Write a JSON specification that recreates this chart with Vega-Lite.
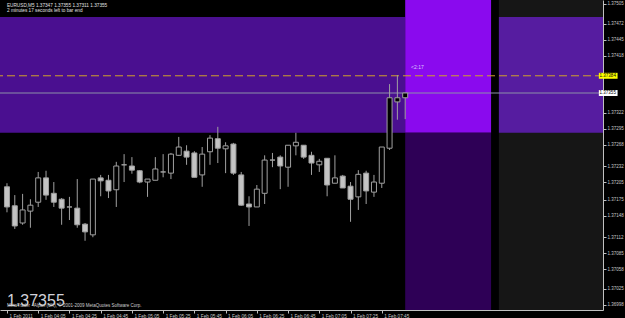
{
  "$schema": "https://vega.github.io/schema/vega-lite/v6.json",
  "width": 603,
  "height": 310,
  "autosize": "none",
  "padding": {"left": 0, "top": 0, "right": 22, "bottom": 8},
  "background": "#000000",
  "config": {
    "view": {"stroke": null},
    "font": "Liberation Sans",
    "axis": {"labelOverlap": false, "labelFlush": false, "labelBound": false, "grid": false, "title": null}
  },
  "datasets": {
    "candles": [
      {"t": "2011-02-01T03:45:00Z", "o": 1.37197, "h": 1.37203, "l": 1.37154, "c": 1.37163},
      {"t": "2011-02-01T03:50:00Z", "o": 1.37165, "h": 1.37183, "l": 1.37126, "c": 1.37131},
      {"t": "2011-02-01T03:55:00Z", "o": 1.37136, "h": 1.37185, "l": 1.37133, "c": 1.37158},
      {"t": "2011-02-01T04:00:00Z", "o": 1.37156, "h": 1.37176, "l": 1.37128, "c": 1.37166},
      {"t": "2011-02-01T04:05:00Z", "o": 1.37171, "h": 1.37222, "l": 1.37163, "c": 1.37212},
      {"t": "2011-02-01T04:10:00Z", "o": 1.37212, "h": 1.37224, "l": 1.37175, "c": 1.37183},
      {"t": "2011-02-01T04:15:00Z", "o": 1.37186, "h": 1.37205, "l": 1.37163, "c": 1.37171},
      {"t": "2011-02-01T04:20:00Z", "o": 1.37176, "h": 1.37178, "l": 1.37133, "c": 1.37161},
      {"t": "2011-02-01T04:25:00Z", "o": 1.37163, "h": 1.37180, "l": 1.37141, "c": 1.37163},
      {"t": "2011-02-01T04:30:00Z", "o": 1.37161, "h": 1.37210, "l": 1.37128, "c": 1.37133},
      {"t": "2011-02-01T04:35:00Z", "o": 1.37134, "h": 1.37136, "l": 1.37106, "c": 1.37121},
      {"t": "2011-02-01T04:40:00Z", "o": 1.37116, "h": 1.37210, "l": 1.37112, "c": 1.37210},
      {"t": "2011-02-01T04:45:00Z", "o": 1.37212, "h": 1.37217, "l": 1.37181, "c": 1.37207},
      {"t": "2011-02-01T04:50:00Z", "o": 1.37208, "h": 1.37217, "l": 1.37178, "c": 1.37190},
      {"t": "2011-02-01T04:55:00Z", "o": 1.37192, "h": 1.37239, "l": 1.37163, "c": 1.37232},
      {"t": "2011-02-01T05:00:00Z", "o": 1.37234, "h": 1.37252, "l": 1.37205, "c": 1.37234},
      {"t": "2011-02-01T05:05:00Z", "o": 1.37232, "h": 1.37247, "l": 1.37219, "c": 1.37225},
      {"t": "2011-02-01T05:10:00Z", "o": 1.37224, "h": 1.37225, "l": 1.37203, "c": 1.37205},
      {"t": "2011-02-01T05:15:00Z", "o": 1.37205, "h": 1.37210, "l": 1.37180, "c": 1.37210},
      {"t": "2011-02-01T05:20:00Z", "o": 1.37208, "h": 1.37247, "l": 1.37208, "c": 1.37227},
      {"t": "2011-02-01T05:25:00Z", "o": 1.37222, "h": 1.37252, "l": 1.37213, "c": 1.37222},
      {"t": "2011-02-01T05:30:00Z", "o": 1.37220, "h": 1.37254, "l": 1.37210, "c": 1.37252},
      {"t": "2011-02-01T05:35:00Z", "o": 1.37250, "h": 1.37281, "l": 1.37249, "c": 1.37264},
      {"t": "2011-02-01T05:40:00Z", "o": 1.37257, "h": 1.37267, "l": 1.37234, "c": 1.37247},
      {"t": "2011-02-01T05:45:00Z", "o": 1.37254, "h": 1.37257, "l": 1.37213, "c": 1.37213},
      {"t": "2011-02-01T05:50:00Z", "o": 1.37217, "h": 1.37264, "l": 1.37197, "c": 1.37252},
      {"t": "2011-02-01T05:55:00Z", "o": 1.37256, "h": 1.37284, "l": 1.37234, "c": 1.37279},
      {"t": "2011-02-01T06:00:00Z", "o": 1.37278, "h": 1.37298, "l": 1.37237, "c": 1.37262},
      {"t": "2011-02-01T06:05:00Z", "o": 1.37261, "h": 1.37272, "l": 1.37220, "c": 1.37266},
      {"t": "2011-02-01T06:10:00Z", "o": 1.37269, "h": 1.37271, "l": 1.37217, "c": 1.37220},
      {"t": "2011-02-01T06:15:00Z", "o": 1.37217, "h": 1.37222, "l": 1.37165, "c": 1.37166},
      {"t": "2011-02-01T06:20:00Z", "o": 1.37168, "h": 1.37181, "l": 1.37131, "c": 1.37163},
      {"t": "2011-02-01T06:25:00Z", "o": 1.37163, "h": 1.37200, "l": 1.37163, "c": 1.37193},
      {"t": "2011-02-01T06:30:00Z", "o": 1.37186, "h": 1.37250, "l": 1.37168, "c": 1.37242},
      {"t": "2011-02-01T06:35:00Z", "o": 1.37242, "h": 1.37254, "l": 1.37230, "c": 1.37242},
      {"t": "2011-02-01T06:40:00Z", "o": 1.37247, "h": 1.37250, "l": 1.37193, "c": 1.37232},
      {"t": "2011-02-01T06:45:00Z", "o": 1.37230, "h": 1.37267, "l": 1.37197, "c": 1.37267},
      {"t": "2011-02-01T06:50:00Z", "o": 1.37266, "h": 1.37288, "l": 1.37250, "c": 1.37272},
      {"t": "2011-02-01T06:55:00Z", "o": 1.37267, "h": 1.37267, "l": 1.37244, "c": 1.37247},
      {"t": "2011-02-01T07:00:00Z", "o": 1.37250, "h": 1.37256, "l": 1.37217, "c": 1.37237},
      {"t": "2011-02-01T07:05:00Z", "o": 1.37234, "h": 1.37244, "l": 1.37222, "c": 1.37240},
      {"t": "2011-02-01T07:10:00Z", "o": 1.37245, "h": 1.37245, "l": 1.37181, "c": 1.37200},
      {"t": "2011-02-01T07:15:00Z", "o": 1.37203, "h": 1.37250, "l": 1.37203, "c": 1.37212},
      {"t": "2011-02-01T07:20:00Z", "o": 1.37215, "h": 1.37217, "l": 1.37195, "c": 1.37195},
      {"t": "2011-02-01T07:25:00Z", "o": 1.37198, "h": 1.37205, "l": 1.37138, "c": 1.37176},
      {"t": "2011-02-01T07:30:00Z", "o": 1.37180, "h": 1.37225, "l": 1.37158, "c": 1.37218},
      {"t": "2011-02-01T07:35:00Z", "o": 1.37220, "h": 1.37224, "l": 1.37168, "c": 1.37190},
      {"t": "2011-02-01T07:40:00Z", "o": 1.37188, "h": 1.37217, "l": 1.37180, "c": 1.37205},
      {"t": "2011-02-01T07:45:00Z", "o": 1.37203, "h": 1.37264, "l": 1.37195, "c": 1.37264},
      {"t": "2011-02-01T07:50:00Z", "o": 1.37262, "h": 1.37370, "l": 1.37259, "c": 1.37347},
      {"t": "2011-02-01T07:55:00Z", "o": 1.37340, "h": 1.37385, "l": 1.37310, "c": 1.37347},
      {"t": "2011-02-01T08:00:00Z", "o": 1.37347, "h": 1.37355, "l": 1.37311, "c": 1.37355}
    ],
    "zones": [
      {"zone": "band", "t1": "2011-02-01T03:00:00Z", "t2": "2011-02-01T08:00:00Z", "p1": 1.37288, "p2": 1.37483},
      {"zone": "violet_top", "t1": "2011-02-01T08:00:00Z", "t2": "2011-02-01T08:55:00Z", "p1": 1.37288, "p2": 1.37600},
      {"zone": "violet_bottom", "t1": "2011-02-01T08:00:00Z", "t2": "2011-02-01T08:55:00Z", "p1": 1.36900, "p2": 1.37288},
      {"zone": "gray", "t1": "2011-02-01T09:00:00Z", "t2": "2011-02-01T10:30:00Z", "p1": 1.36900, "p2": 1.37600},
      {"zone": "gray_band", "t1": "2011-02-01T09:00:00Z", "t2": "2011-02-01T10:30:00Z", "p1": 1.37288, "p2": 1.37483}
    ]
  },
  "layer": [
    {
      "data": {"name": "zones"},
      "mark": {"type": "rect", "clip": true},
      "encoding": {
        "x": {
          "field": "t1", "type": "temporal",
          "scale": {
            "type": "utc",
            "domain": [
              {"year": 2011, "month": 2, "date": 1, "hours": 3, "minutes": 43, "seconds": 44, "utc": true},
              {"year": 2011, "month": 2, "date": 1, "hours": 10, "minutes": 3, "seconds": 28, "utc": true}
            ],
            "nice": false
          },
          "axis": {
            "orient": "bottom",
            "tickCount": 60,
            "values": [
              {"year": 2011, "month": 2, "date": 1, "hours": 3, "minutes": 45, "utc": true},
              {"year": 2011, "month": 2, "date": 1, "hours": 4, "minutes": 5, "utc": true},
              {"year": 2011, "month": 2, "date": 1, "hours": 4, "minutes": 25, "utc": true},
              {"year": 2011, "month": 2, "date": 1, "hours": 4, "minutes": 45, "utc": true},
              {"year": 2011, "month": 2, "date": 1, "hours": 5, "minutes": 5, "utc": true},
              {"year": 2011, "month": 2, "date": 1, "hours": 5, "minutes": 25, "utc": true},
              {"year": 2011, "month": 2, "date": 1, "hours": 5, "minutes": 45, "utc": true},
              {"year": 2011, "month": 2, "date": 1, "hours": 6, "minutes": 5, "utc": true},
              {"year": 2011, "month": 2, "date": 1, "hours": 6, "minutes": 25, "utc": true},
              {"year": 2011, "month": 2, "date": 1, "hours": 6, "minutes": 45, "utc": true},
              {"year": 2011, "month": 2, "date": 1, "hours": 7, "minutes": 5, "utc": true},
              {"year": 2011, "month": 2, "date": 1, "hours": 7, "minutes": 25, "utc": true},
              {"year": 2011, "month": 2, "date": 1, "hours": 7, "minutes": 45, "utc": true}
            ],
            "labelExpr": "utcFormat(datum.value, '%H:%M') === '03:45' ? '1 Feb 2011' : '1 Feb ' + utcFormat(datum.value, '%H:%M')",
            "labelAlign": "left",
            "labelOffset": 2,
            "labelBaseline": "top",
            "labelPadding": 0,
            "labelFontSize": 4.7,
            "labelColor": "#c8c8c8",
            "tickColor": "#c0c0c0",
            "tickSize": 3,
            "domainColor": "#c0c0c0"
          }
        },
        "x2": {"field": "t2"},
        "y": {
          "field": "p1", "type": "quantitative",
          "scale": {"domain": [1.369894, 1.375117], "nice": false, "zero": false},
          "axis": {
            "orient": "right",
            "tickCount": 60,
            "values": [1.37505, 1.37472, 1.37445, 1.37418, 1.37322, 1.37295, 1.37268, 1.37232, 1.37205, 1.37175, 1.37148, 1.37112, 1.37085, 1.37058, 1.37025, 1.36998],
            "format": ".5f",
            "labelFontSize": 4.5,
            "labelColor": "#c8c8c8",
            "labelPadding": 1,
            "tickColor": "#c0c0c0",
            "tickSize": 3,
            "domainColor": "#c0c0c0"
          }
        },
        "y2": {"field": "p2"},
        "color": {
          "field": "zone", "type": "nominal", "legend": null,
          "scale": {
            "domain": ["band", "violet_top", "violet_bottom", "gray", "gray_band"],
            "range": ["#4a0f90", "#8a0aee", "#2e0056", "#161616", "#561ca0"]
          }
        }
      }
    },
    {
      "data": {"values": [{"p": 1.37384}]},
      "mark": {"type": "rule", "color": "#d2a22a", "strokeWidth": 1, "strokeDash": [8, 4]},
      "encoding": {"y": {"field": "p", "type": "quantitative"}}
    },
    {
      "data": {"values": [{"p": 1.37355}]},
      "mark": {"type": "rule", "color": "#8c90a8", "strokeWidth": 1},
      "encoding": {"y": {"field": "p", "type": "quantitative"}}
    },
    {
      "data": {"name": "candles"},
      "mark": {"type": "rule", "color": "#a0a0a0", "strokeWidth": 1},
      "encoding": {
        "x": {"field": "t", "type": "temporal"},
        "y": {"field": "l", "type": "quantitative"},
        "y2": {"field": "h"}
      }
    },
    {
      "data": {"name": "candles"},
      "mark": {"type": "bar", "width": 5, "stroke": "#a0a0a0", "strokeWidth": 1},
      "encoding": {
        "x": {"field": "t", "type": "temporal"},
        "y": {"field": "o", "type": "quantitative"},
        "y2": {"field": "c"},
        "fill": {"condition": {"test": "datum.c >= datum.o", "value": "#000000"}, "value": "#c4c4c4"}
      }
    },
    {
      "data": {"values": [{"p1": 1.37379, "p2": 1.37389, "t1": "2011-02-01T10:04:00Z", "t2": "2011-02-01T10:16:00Z"}]},
      "mark": {"type": "rect", "color": "#ffff00"},
      "encoding": {
        "x": {"field": "t1", "type": "temporal"}, "x2": {"field": "t2"},
        "y": {"field": "p1", "type": "quantitative"}, "y2": {"field": "p2"}
      }
    },
    {
      "data": {"values": [{"p1": 1.37350, "p2": 1.37360, "t1": "2011-02-01T10:04:00Z", "t2": "2011-02-01T10:16:00Z"}]},
      "mark": {"type": "rect", "color": "#ffffff"},
      "encoding": {
        "x": {"field": "t1", "type": "temporal"}, "x2": {"field": "t2"},
        "y": {"field": "p1", "type": "quantitative"}, "y2": {"field": "p2"}
      }
    },
    {
      "data": {"values": [
        {"t": "2011-02-01T10:04:30Z", "p": 1.37384, "txt": "1.37384"},
        {"t": "2011-02-01T10:04:30Z", "p": 1.37355, "txt": "1.37355"}
      ]},
      "mark": {"type": "text", "align": "left", "baseline": "middle", "fontSize": 4.5, "color": "#000000"},
      "encoding": {
        "x": {"field": "t", "type": "temporal"},
        "y": {"field": "p", "type": "quantitative"},
        "text": {"field": "txt"}
      }
    },
    {
      "data": {"values": [
        {"t": "2011-02-01T03:45:00Z", "p": 1.37500, "txt": "EURUSD,M5  1.37347 1.37355 1.37311 1.37355"},
        {"t": "2011-02-01T03:45:00Z", "p": 1.37492, "txt": "2 minutes 17 seconds left to bar end"}
      ]},
      "mark": {"type": "text", "align": "left", "baseline": "alphabetic", "fontSize": 4.7, "color": "#e0e0e0"},
      "encoding": {
        "x": {"field": "t", "type": "temporal"},
        "y": {"field": "p", "type": "quantitative"},
        "text": {"field": "txt"}
      }
    },
    {
      "data": {"values": [{"t": "2011-02-01T03:45:00Z", "p": 1.36996, "txt": "1.37355"}]},
      "mark": {"type": "text", "align": "left", "baseline": "alphabetic", "fontSize": 16, "color": "#d0d0d8"},
      "encoding": {
        "x": {"field": "t", "type": "temporal"},
        "y": {"field": "p", "type": "quantitative"},
        "text": {"field": "txt"}
      }
    },
    {
      "data": {"values": [{"t": "2011-02-01T03:45:00Z", "p": 1.36994, "txt": "MetaTrader - Alpari (UK), © 2001-2009 MetaQuotes Software Corp."}]},
      "mark": {"type": "text", "align": "left", "baseline": "alphabetic", "fontSize": 4.5, "color": "#d0d0d0"},
      "encoding": {
        "x": {"field": "t", "type": "temporal"},
        "y": {"field": "p", "type": "quantitative"},
        "text": {"field": "txt"}
      }
    },
    {
      "data": {"values": [{"t": "2011-02-01T08:03:45Z", "p": 1.37399, "txt": "<2:17"}]},
      "mark": {"type": "text", "align": "left", "baseline": "middle", "fontSize": 5, "color": "#dcc4ff"},
      "encoding": {
        "x": {"field": "t", "type": "temporal"},
        "y": {"field": "p", "type": "quantitative"},
        "text": {"field": "txt"}
      }
    }
  ]
}
